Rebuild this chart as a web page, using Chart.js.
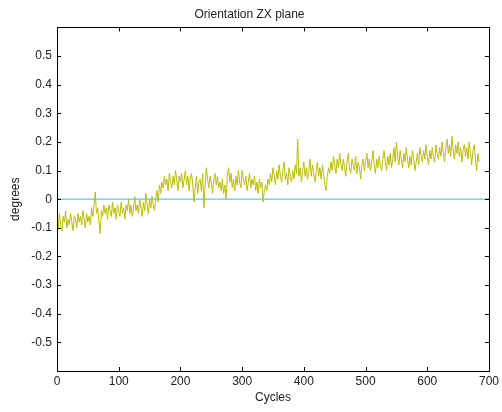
<!DOCTYPE html>
<html>
<head>
<meta charset="utf-8">
<script src="https://cdn.jsdelivr.net/npm/chart.js@4/dist/chart.umd.min.js"></script>
<style>
  html, body { margin: 0; padding: 0; background: #ffffff; }
  #wrap { width: 502px; height: 412px; }
</style>
</head>
<body>
<div id="wrap"><canvas id="c" width="502" height="412"></canvas></div>
<script>
// Orientation in the ZX plane, one sample every 2 cycles
const sampleStep = 2;
const orientation = [
  -0.07,-0.10,-0.05,-0.09,-0.11,-0.06,-0.08,-0.04,-0.10,-0.07,
  -0.09,-0.05,-0.08,-0.11,-0.06,-0.07,-0.10,-0.05,-0.08,-0.06,
  -0.09,-0.04,-0.07,-0.10,-0.05,-0.08,-0.06,-0.09,-0.03,-0.06,
  -0.02,0.025,-0.05,-0.03,-0.08,-0.12,-0.04,-0.06,-0.02,-0.05,
  -0.03,-0.07,-0.02,-0.04,-0.06,-0.01,-0.05,-0.03,-0.07,-0.02,
  -0.04,-0.06,-0.01,-0.05,-0.03,-0.07,-0.02,-0.04,0.00,-0.05,
  -0.02,-0.06,-0.03,0.01,-0.04,-0.02,-0.05,0.00,-0.03,-0.06,
  -0.01,-0.04,0.02,-0.02,-0.05,0.00,-0.03,0.01,-0.02,-0.04,
  0.00,0.03,-0.01,0.05,0.02,0.06,0.04,0.08,0.05,0.07,
  0.03,0.09,0.06,0.04,0.08,0.05,0.10,0.07,0.03,0.08,
  0.06,0.09,0.04,0.07,0.10,0.05,0.08,0.03,0.07,0.09,
  0.05,-0.01,0.04,0.08,0.02,0.06,0.07,0.03,0.09,-0.03,
  0.05,0.11,0.07,0.04,0.08,0.06,0.02,0.07,0.09,0.05,
  0.08,0.04,0.06,0.03,0.07,0.02,0.05,0.00,0.08,0.11,
  0.06,0.09,0.04,0.07,0.03,0.08,0.05,0.10,0.06,0.04,
  0.10,0.07,0.05,0.08,0.03,0.06,0.09,0.04,0.07,0.05,
  0.08,0.03,0.06,0.02,0.07,0.04,0.06,-0.01,0.03,0.05,
  0.03,0.07,0.05,0.09,0.06,0.11,0.08,0.05,0.10,0.07,
  0.12,0.08,0.06,0.10,0.13,0.07,0.09,0.05,0.11,0.08,
  0.06,0.10,0.07,0.12,0.09,0.21,0.08,0.11,0.06,0.10,
  0.13,0.08,0.11,0.07,0.10,0.14,0.08,0.12,0.09,0.06,
  0.10,0.13,0.08,0.11,0.07,0.12,0.09,0.05,0.03,0.08,
  0.11,0.09,0.13,0.10,0.15,0.12,0.09,0.14,0.11,0.16,
  0.12,0.10,0.14,0.11,0.08,0.13,0.16,0.11,0.09,0.14,
  0.12,0.10,0.15,0.09,0.13,0.11,0.07,0.12,0.14,0.10,
  0.13,0.16,0.11,0.14,0.10,0.13,0.17,0.12,0.09,0.14,
  0.11,0.15,0.12,0.10,0.14,0.17,0.13,0.10,0.15,0.12,
  0.16,0.11,0.14,0.18,0.13,0.20,0.15,0.12,0.17,0.14,
  0.11,0.16,0.13,0.18,0.14,0.11,0.15,0.12,0.17,0.14,
  0.10,0.13,0.16,0.12,0.18,0.15,0.13,0.17,0.14,0.19,
  0.15,0.12,0.17,0.14,0.18,0.15,0.13,0.19,0.16,0.14,
  0.18,0.15,0.20,0.16,0.13,0.18,0.21,0.16,0.19,0.15,
  0.22,0.17,0.14,0.19,0.16,0.20,0.15,0.18,0.13,0.17,
  0.19,0.15,0.18,0.14,0.20,0.16,0.12,0.17,0.19,0.14,
  0.10,0.16,0.13
];

// Zero reference line
const refCycles = [0, 700];
const refValues = [0, 0];

// Axis ticks
const xTicks = [0, 100, 200, 300, 400, 500, 600, 700];
const yTicks = [-0.5, -0.4, -0.3, -0.2, -0.1, 0, 0.1, 0.2, 0.3, 0.4, 0.5];

const seriesPoints = orientation.map((v, i) => ({ x: i * sampleStep, y: v }));
const refPoints = refCycles.map((c, i) => ({ x: c, y: refValues[i] }));

const FONT = '"Liberation Sans", Arial, sans-serif';

// Box around the plot and inward tick marks on all four sides
const boxTicks = {
  id: 'boxTicks',
  afterDatasetsDraw(chart) {
    const { ctx, chartArea: a, scales: { x, y } } = chart;
    const len = 4;
    ctx.save();
    ctx.strokeStyle = '#000';
    ctx.lineWidth = 1;
    ctx.beginPath();
    xTicks.forEach(t => {
      const px = Math.round(x.getPixelForValue(t)) + 0.5;
      ctx.moveTo(px, a.bottom); ctx.lineTo(px, a.bottom - len);
      ctx.moveTo(px, a.top); ctx.lineTo(px, a.top + len);
    });
    yTicks.forEach(t => {
      const py = Math.round(y.getPixelForValue(t)) + 0.5;
      ctx.moveTo(a.left, py); ctx.lineTo(a.left + len, py);
      ctx.moveTo(a.right, py); ctx.lineTo(a.right - len, py);
    });
    ctx.stroke();
    ctx.strokeRect(Math.round(a.left) + 0.5, Math.round(a.top) + 0.5,
                   Math.round(a.right - a.left), Math.round(a.bottom - a.top));
    ctx.restore();
  }
};

new Chart(document.getElementById('c'), {
  type: 'line',
  data: {
    datasets: [
      {
        data: refPoints,
        borderColor: '#62c6c6',
        borderWidth: 1.2,
        pointRadius: 0,
        tension: 0
      },
      {
        data: seriesPoints,
        borderColor: '#bcbc0a',
        borderWidth: 1,
        pointRadius: 0,
        tension: 0
      }
    ]
  },
  options: {
    responsive: false,
    animation: false,
    events: [],
    layout: { padding: { top: 1, right: 11, bottom: 7, left: 8 } },
    plugins: {
      legend: { display: false },
      tooltip: { enabled: false },
      title: {
        display: true,
        text: 'Orientation ZX plane',
        color: '#222',
        font: { family: FONT, size: 12, weight: 'normal' },
        padding: { top: 6, bottom: 6 }
      }
    },
    scales: {
      x: {
        type: 'linear',
        min: 0,
        max: 700,
        afterBuildTicks(s) { s.ticks = xTicks.map(v => ({ value: v })); },
        afterFit(s) { s.height = 34; },
        grid: { display: false, drawTicks: false },
        border: { display: false },
        ticks: {
          color: '#222',
          padding: 3,
          font: { family: FONT, size: 12 },
          callback: v => String(v)
        },
        title: {
          display: true,
          text: 'Cycles',
          color: '#222',
          font: { family: FONT, size: 12 },
          padding: { top: 0, bottom: 0 }
        }
      },
      y: {
        type: 'linear',
        min: -0.6,
        max: 0.6,
        afterBuildTicks(s) { s.ticks = yTicks.map(v => ({ value: v })); },
        afterFit(s) { s.width = 49; },
        grid: { display: false, drawTicks: false },
        border: { display: false },
        ticks: {
          color: '#222',
          padding: 5,
          font: { family: FONT, size: 12 },
          callback: v => (Math.abs(v) < 1e-9 ? '0' : v.toFixed(1))
        },
        title: {
          display: true,
          text: 'degrees',
          color: '#222',
          font: { family: FONT, size: 12 },
          padding: { top: 0, bottom: 2 }
        }
      }
    }
  },
  plugins: [boxTicks]
});
</script>
</body>
</html>
